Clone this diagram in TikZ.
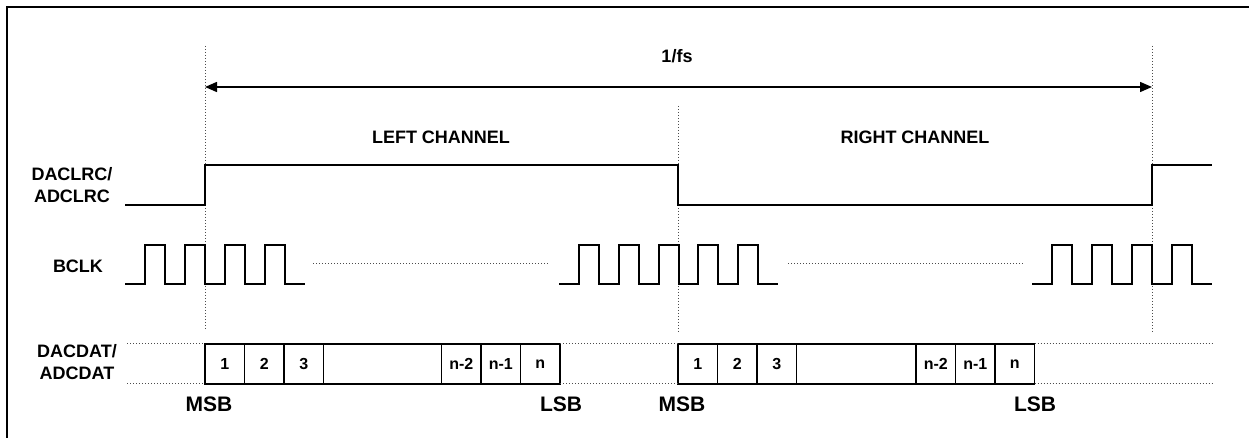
\documentclass[tikz,border=0pt]{standalone}
\usepackage{fontspec}
\setmainfont{Liberation Sans}
\usetikzlibrary{arrows.meta}

\tikzset{
  sig/.style={line width=1pt},
  guide/.style={densely dotted, line width=0.5pt, black!70},
  bit/.style={draw, line width=0.8pt, minimum width=19.75pt, minimum height=20pt,
    inner sep=0pt, outer sep=0pt, font=\fontsize{8}{9}\selectfont\bfseries},
  lbl/.style={font=\fontsize{9}{11}\selectfont\bfseries, align=center},
  edgelbl/.style={font=\fontsize{10.5}{12}\selectfont\bfseries}
}

\begin{document}
\begin{tikzpicture}[x=0.5pt,y=-0.5pt]
\useasboundingbox (0,0) rectangle (1249,438);
% frame
\draw[line width=1pt] (7,438) -- (7,7) -- (1249,7);

% time marks
\coordinate (tL) at (205,87);
\coordinate (tR) at (1152,87);
\draw[guide] (205,46) -- (205,330);
\draw[guide] (1152,46) -- (1152,333);
\draw[guide] (678,106) -- (678,333);
\draw[line width=0.75pt, {Triangle[length=6pt,width=5pt]}-{Triangle[length=6pt,width=5pt]}] (tL) -- (tR);
\node[lbl] (fs) at (677,56) {1/fs};
\node[lbl] (left) at (441,137) {LEFT CHANNEL};
\node[lbl] (right) at (915,137) {RIGHT CHANNEL};

% LRC
\node[lbl] (lrc) at (72,185) {DACLRC/\\ADCLRC};
\draw[sig] (125,205) -- (205,205) -- (205,165) -- (678,165) -- (678,205)
  -- (1152,205) -- (1152,165) -- (1212,165);

% BCLK
\node[lbl] (bclk) at (78,266) {BCLK};
\draw[sig] (125,284) foreach \x in {145,185,225,265} {-- (\x,284) -- (\x,245) -- (\x+20,245) -- (\x+20,284)} -- (305,284);
\draw[sig] (559,284) foreach \x in {579,619,659,698,738} {-- (\x,284) -- (\x,245) -- (\x+20,245) -- (\x+20,284)} -- (778,284);
\draw[sig] (1032,284) foreach \x in {1052,1092,1132,1172} {-- (\x,284) -- (\x,245) -- (\x+20,245) -- (\x+20,284)} -- (1212,284);
\draw[guide] (313,264) -- (548,264);
\draw[guide] (788,264) -- (1023,264);

% DAT
\node[lbl] (dat) at (77,362.5) {DACDAT/\\ADCDAT};
\node[bit] (l1) at (224.75,364) {1};
\node[bit] (l2) at (264.25,364) {2};
\node[bit] (l3) at (303.75,364) {3};
\node[bit, minimum width=59pt] (lgap) at (382.5,364) {};
\node[bit] (ln2) at (461.25,364) {n-2};
\node[bit] (ln1) at (500.75,364) {n-1};
\node[bit] (ln) at (540.25,364) {n};
\node[bit] (r1) at (697.75,364) {1};
\node[bit] (r2) at (737.25,364) {2};
\node[bit] (r3) at (776.75,364) {3};
\node[bit, minimum width=59.75pt] (rgap) at (856.25,364) {};
\node[bit] (rn2) at (935.75,364) {n-2};
\node[bit] (rn1) at (975.25,364) {n-1};
\node[bit] (rn) at (1014.75,364) {n};
\draw[guide] (127,344) -- (l1.north west);
\draw[guide] (127,384) -- (l1.south west);
\draw[guide] (ln.north east) -- (r1.north west);
\draw[guide] (ln.south east) -- (r1.south west);
\draw[guide] (rn.north east) -- (1212,344);
\draw[guide] (rn.south east) -- (1212,384);
\node[edgelbl] (msbL) at (209,404) {MSB};
\node[edgelbl] (lsbL) at (561,404) {LSB};
\node[edgelbl] (msbR) at (682,404) {MSB};
\node[edgelbl] (lsbR) at (1035,404) {LSB};
\end{tikzpicture}
\end{document}
